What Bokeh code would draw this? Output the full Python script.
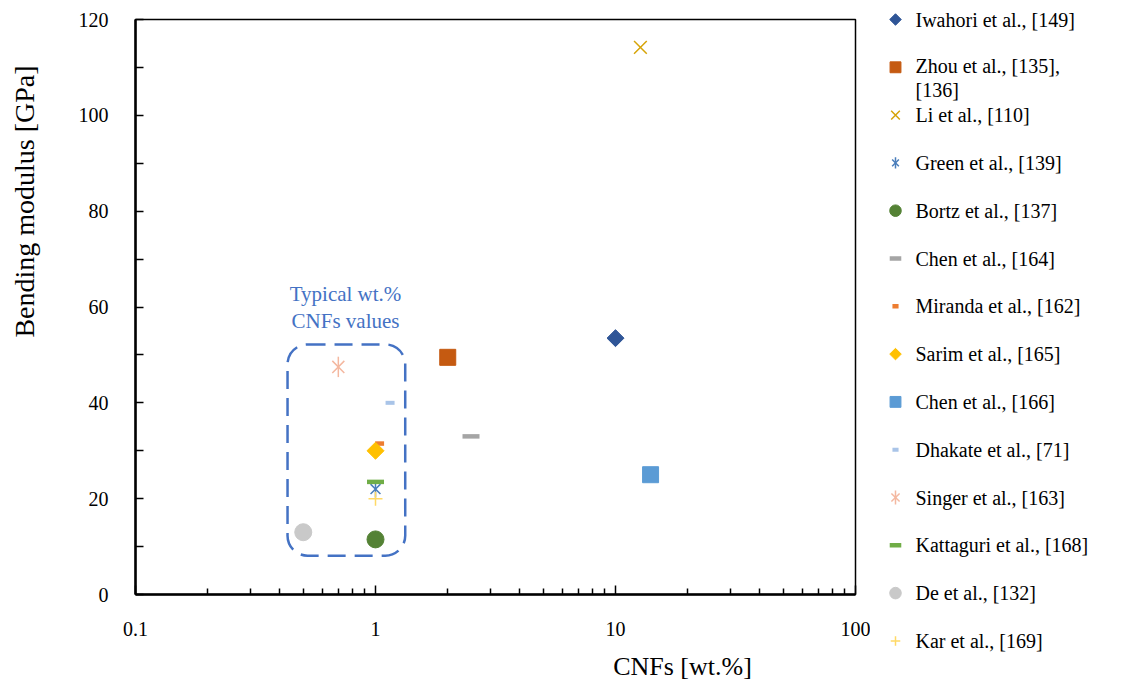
import numpy as np
from bokeh.plotting import figure
from bokeh.layouts import row, column
from bokeh.models import BoxAnnotation, FixedTicker, Range1d
from bokeh.core.properties import value
from bokeh.embed import file_html
from bokeh.resources import INLINE

# Bending modulus of CNF-containing composites, by study
studies = [
    "Iwahori et al., [149]",
    "Zhou et al., [135],\n[136]",
    "Li et al., [110]",
    "Green et al., [139]",
    "Bortz et al., [137]",
    "Chen et al., [164]",
    "Miranda et al., [162]",
    "Sarim et al., [165]",
    "Chen et al., [166]",
    "Dhakate et al., [71]",
    "Singer et al., [163]",
    "Kattaguri et al., [168]",
    "De et al., [132]",
    "Kar et al., [169]",
]
cnf_wt = [10.0, 2.0, 12.7, 1.0, 1.0, 2.5, 1.04, 1.0, 14.0, 1.15, 0.7, 1.0, 0.5, 1.0]
bending_gpa = [53.5, 49.5, 114.2, 22.0, 11.5, 33.0, 31.5, 30.0, 25.0, 40.0, 47.5, 23.5, 13.0, 20.0]

y_ticks = [0, 20, 40, 60, 80, 100, 120]
y_minor = [10, 30, 50, 70, 90, 110]
x_ticks = [0.1, 1, 10, 100]
x_tick_labels = ["0.1", "1", "10", "100"]

x_title = "CNFs [wt.%]"
y_title = "Bending modulus [GPa]"
box_note = "Typical wt.%\nCNFs values"

# marker styling per study: (marker, size, line width, angle, color)
styles = [
    ("square", 12, 1, np.pi / 4, "#2F5597"),
    ("square", 16, 1, 0, "#C55A11"),
    ("x", 18, 1.5, 0, "#D6A408"),
    ("six", 14, 1.5, 0, "#4A7EBB"),
    ("circle", 17, 1, 0, "#548235"),
    ("dash", 17, 4.5, 0, "#A5A5A5"),
    ("dash", 9, 4.5, 0, "#ED7D31"),
    ("square", 12, 1, np.pi / 4, "#FFC000"),
    ("square", 16, 1, 0, "#5B9BD5"),
    ("dash", 9, 4, 0, "#A9C4E8"),
    ("six", 17, 1.5, 0, "#F4B8A0"),
    ("dash", 17, 4.5, 0, "#70AD47"),
    ("circle", 17, 1, 0, "#C9C9C9"),
    ("cross", 14, 1.5, 0, "#FFD966"),
]

FONT = "Liberation Serif"
BOX_BLUE = "#4472C4"
H = 681
YLAB_W, PLOT_W, KEY_W = 45, 825, 251
PLOT_H, XLAB_H = 650, 31


def draw_marker(fig, xs, ys, style, scale=1.0):
    mk, sz, lw, ang, col = style
    if mk == "six":
        # six-armed asterisk: an x plus a vertical bar
        fig.scatter(x=xs, y=ys, marker="x", size=sz * scale, line_width=lw,
                    line_color=col)
        fig.scatter(x=xs, y=ys, marker="dash", size=sz * scale * 1.2,
                    angle=np.pi / 2, line_width=lw, line_color=col)
    else:
        fig.scatter(x=xs, y=ys, marker=mk, size=sz * scale, angle=ang,
                    line_width=lw, line_color=col, fill_color=col)


def blank_panel(w, h):
    f = figure(width=w, height=h, x_range=Range1d(0, w), y_range=Range1d(0, h),
               output_backend="svg", toolbar_location=None,
               x_axis_location=None, y_axis_location=None,
               min_border=0, outline_line_color=None,
               background_fill_color="white", border_fill_color="white")
    f.grid.visible = False
    f.frame_align = False
    return f


# main scatter plot
p = figure(
    width=PLOT_W, height=PLOT_H,
    x_axis_type="log", x_range=(0.1, 100), y_range=(0, 120),
    output_backend="svg", toolbar_location=None,
    min_border_left=135 - YLAB_W, min_border_right=PLOT_W + YLAB_W - 855,
    min_border_top=19, min_border_bottom=PLOT_H - 594,
    background_fill_color="white", border_fill_color="white",
)
p.grid.visible = False
p.outline_line_color = "black"
p.outline_line_width = 1.5

p.yaxis.ticker = FixedTicker(ticks=y_ticks, minor_ticks=y_minor)
p.xaxis.ticker = FixedTicker(
    ticks=x_ticks,
    minor_ticks=[m * d for d in (0.1, 1, 10) for m in range(2, 10)],
)
p.xaxis.major_label_overrides = {t: s for t, s in zip(x_ticks, x_tick_labels)}
for ax in (p.xaxis[0], p.yaxis[0]):
    ax.axis_line_width = 2.5
    ax.axis_line_color = "black"
    ax.major_tick_out = 0
    ax.minor_tick_out = 0
    ax.major_tick_line_width = 1.5
    ax.minor_tick_line_width = 1.5
    ax.major_label_text_font = FONT
    ax.major_label_text_font_size = "20px"
    ax.major_label_text_color = "black"
    ax.major_label_standoff = 27
p.yaxis.major_tick_in = 8
p.yaxis.minor_tick_in = 8
p.xaxis.major_tick_in = 9
p.xaxis.minor_tick_in = 6

# highlighted region of typical loadings
p.add_layout(BoxAnnotation(left=0.43, right=1.33, bottom=8.1, top=52.2,
                           fill_alpha=0, line_color=BOX_BLUE, line_alpha=1,
                           line_width=2.5, line_dash="18 9", border_radius=20))
p.text(x=[0.75], y=[54.5], text=[box_note],
       text_align="center", text_baseline="bottom",
       text_font=value(FONT), text_font_size="21px",
       text_color=BOX_BLUE, text_line_height=1.15)

for xv, yv, st in zip(cnf_wt, bending_gpa, styles):
    draw_marker(p, [xv], [yv], st)

# axis titles
ylab = blank_panel(YLAB_W, H)
ylab.text(x=[24], y=[H - 201], text=[y_title], angle=np.pi / 2,
          text_align="center", text_baseline="middle",
          text_font=value(FONT), text_font_size="28px", text_color="black")

xlab = blank_panel(PLOT_W, XLAB_H)
xlab.text(x=[682 - YLAB_W], y=[XLAB_H - (666 - PLOT_H)], text=[x_title],
          text_align="center", text_baseline="middle",
          text_font=value(FONT), text_font_size="26px", text_color="black")

# key to the right of the plot
key = blank_panel(KEY_W, H)
key.y_range = Range1d(H, 0)
row_step = 47.8
line_px = 22
key_y = 19 + row_step * np.arange(len(studies))
n_lines = np.array([s.count("\n") + 1 for s in studies])
for ky, st in zip(key_y, styles):
    draw_marker(key, [25], [ky], st, scale=0.68)
key.text(x=np.full(len(studies), 45.0), y=key_y + (n_lines - 1) * line_px / 2,
         text=studies, text_align="left", text_baseline="middle",
         text_font=value(FONT), text_font_size="20px", text_color="black",
         text_line_height=1.1)

layout = row(ylab, column(p, xlab), key)
open("out.html", "w").write(file_html(layout, INLINE))
